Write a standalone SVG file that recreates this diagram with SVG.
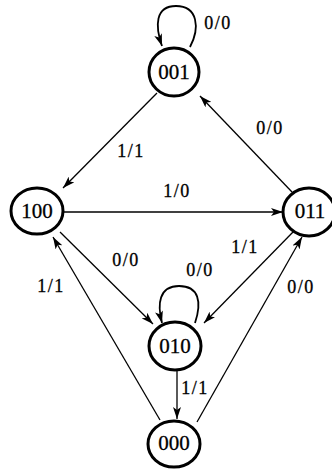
<svg xmlns="http://www.w3.org/2000/svg" width="332" height="470" viewBox="0 0 332 470">
<defs>
<marker id="ah" markerUnits="userSpaceOnUse" markerWidth="12" markerHeight="8" refX="12" refY="4" orient="auto">
<path d="M0,0 L12,4 L0,8 L3,4 z" fill="#000"/>
</marker>
</defs>
<rect width="332" height="470" fill="#fff"/>
<g id="connectors" fill="none" stroke="#000">
<path stroke-width="1.8" d="M190,47 C200,28 198,6 176,6 C155,6 155,26 162,46" marker-end="url(#ah)"/>
<path stroke-width="1.8" d="M195,323 C202,302 199,286 179,286 C159,286 157,304 162,323" marker-end="url(#ah)"/>
<line stroke-width="1.3" x1="157" y1="93" x2="63" y2="188" marker-end="url(#ah)"/>
<line stroke-width="1.3" x1="292" y1="192" x2="200" y2="96" marker-end="url(#ah)"/>
<line stroke-width="1.3" x1="64" y1="212" x2="283" y2="212" marker-end="url(#ah)"/>
<line stroke-width="1.3" x1="60" y1="232" x2="153" y2="324" marker-end="url(#ah)"/>
<line stroke-width="1.3" x1="293" y1="232" x2="204" y2="323" marker-end="url(#ah)"/>
<line stroke-width="1.3" x1="177" y1="370" x2="177" y2="419" marker-end="url(#ah)"/>
<line stroke-width="1.3" x1="160" y1="420" x2="53" y2="237" marker-end="url(#ah)"/>
<line stroke-width="1.3" x1="197" y1="422" x2="302" y2="237" marker-end="url(#ah)"/>
<g font-family="Liberation Serif, DejaVu Serif, serif" font-size="18" fill="#000" stroke="#000" stroke-width="0.3" text-anchor="middle" letter-spacing="1.5">
<text x="218" y="29">0/0</text>
<text x="131" y="157">1/1</text>
<text x="270" y="134">0/0</text>
<text x="177" y="197">1/0</text>
<text x="126" y="266">0/0</text>
<text x="245" y="253">1/1</text>
<text x="200" y="276">0/0</text>
<text x="51" y="292">1/1</text>
<text x="301" y="293">0/0</text>
<text x="195" y="394">1/1</text>
</g>
</g>
<g font-family="Liberation Serif, DejaVu Serif, serif" font-size="21" text-anchor="middle">
<g id="n001"><ellipse cx="174" cy="72" rx="25" ry="24" fill="#fff" stroke="#000" stroke-width="3"/><text x="174" y="79" fill="#000" stroke="#000" stroke-width="0.3">001</text></g>
<g id="n100"><ellipse cx="37" cy="211" rx="26" ry="23" fill="#fff" stroke="#000" stroke-width="3"/><text x="37" y="218" fill="#000" stroke="#000" stroke-width="0.3">100</text></g>
<g id="n011"><ellipse cx="309" cy="212" rx="26" ry="24" fill="#fff" stroke="#000" stroke-width="3"/><text x="310" y="218" fill="#000" stroke="#000" stroke-width="0.3">011</text></g>
<g id="n010"><ellipse cx="175" cy="346" rx="26" ry="24" fill="#fff" stroke="#000" stroke-width="3"/><text x="175" y="353" fill="#000" stroke="#000" stroke-width="0.3">010</text></g>
<g id="n000"><ellipse cx="174" cy="444" rx="26" ry="23" fill="#fff" stroke="#000" stroke-width="3"/><text x="174" y="450" fill="#000" stroke="#000" stroke-width="0.3">000</text></g>
</g>
</svg>
